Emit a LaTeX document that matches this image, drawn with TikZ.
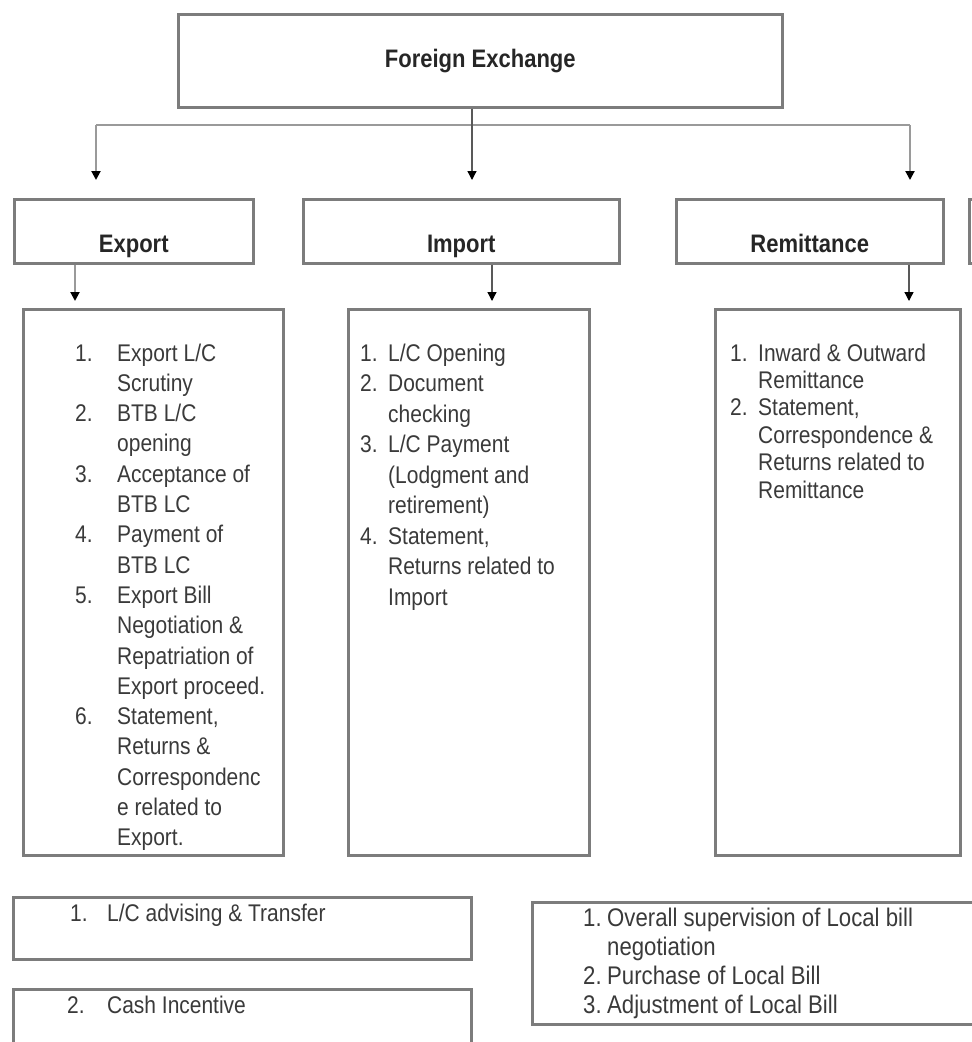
\documentclass[tikz,border=0pt]{standalone}
\usepackage{fontspec}
\setmainfont{Liberation Sans}[FakeStretch=0.87]
\usetikzlibrary{arrows.meta,calc}
\definecolor{bordergray}{HTML}{7C7C7C}
\definecolor{linkgray}{HTML}{9A9A9A}
\definecolor{txtgray}{HTML}{3A3A3A}
\begin{document}
\begin{tikzpicture}[x=1pt,y=-1pt,
  box/.style={draw=bordergray, line width=2.5pt, fill=white, inner sep=0pt, anchor=north west},
  hd/.style={font=\bfseries\fontsize{25.3}{28}\selectfont, text=black!85},
  lowtext/.style={text height=47pt, text depth=5pt},
  lst/.style={font=\fontsize{24.1}{#1}\selectfont, text=txtgray, inner sep=0pt, anchor=base west},
  lst/.default={30.3},
  conn/.style={draw=linkgray, line width=2.5pt},
  arr/.style={draw=black!65, line width=1.3pt, -{Triangle[width=9pt,length=9pt,color=black]}},
]
\useasboundingbox (0,0) rectangle (972,1042);
\clip (0,0) rectangle (972,1042);
\fill[white] (0,0) rectangle (972,1042);

% level 0
\node[box, hd, minimum width=604pt, minimum height=93pt] (fx) at (177,13) {Foreign Exchange};

% level 1
\node[box, hd, lowtext, minimum width=239pt, minimum height=64pt] (exp) at (13,198) {Export};
\node[box, hd, lowtext, minimum width=316pt, minimum height=64pt] (imp) at (302,198) {Import};
\node[box, hd, lowtext, minimum width=267pt, minimum height=64pt] (rem) at (675,198) {Remittance};
\node[box, minimum width=40pt, minimum height=64pt] (other) at (968,198) {};

% list boxes
\node[box, minimum width=260pt, minimum height=546pt] (expbox) at (22,308) {};
\node[box, minimum width=241pt, minimum height=546pt] (impbox) at (347,308) {};
\node[box, minimum width=245pt, minimum height=546pt] (rembox) at (714,308) {};

\node[lst] (expT) at (75,361) {\begin{tabular}[t]{@{}p{42pt}@{}l@{}}
1. & Export L/C\\
   & Scrutiny\\
2. & BTB L/C\\
   & opening\\
3. & Acceptance of\\
   & BTB LC\\
4. & Payment of\\
   & BTB LC\\
5. & Export Bill\\
   & Negotiation \&\\
   & Repatriation of\\
   & Export proceed.\\
6. & Statement,\\
   & Returns \&\\
   & Correspondenc\\
   & e related to\\
   & Export.
\end{tabular}};

\node[lst=30.5] (impT) at (360,361) {\begin{tabular}[t]{@{}p{28pt}@{}l@{}}
1. & L/C Opening\\
2. & Document\\
   & checking\\
3. & L/C Payment\\
   & (Lodgment and\\
   & retirement)\\
4. & Statement,\\
   & Returns related to\\
   & Import
\end{tabular}};

\node[lst=27.4] (remT) at (730,361) {\begin{tabular}[t]{@{}p{28pt}@{}l@{}}
1. & Inward \& Outward\\
   & Remittance\\
2. & Statement,\\
   & Correspondence \&\\
   & Returns related to\\
   & Remittance
\end{tabular}};

% bottom boxes
\node[box, minimum width=458pt, minimum height=62pt] (lcadv) at (12,896) {};
\node[box, minimum width=458pt, minimum height=80pt] (cash) at (12,988) {};
\node[box, minimum width=460pt, minimum height=122pt] (local) at (531,901) {};

\node[lst] (lcadvT) at (70,921) {\begin{tabular}[t]{@{}p{37pt}@{}l@{}}
1. & L/C advising \& Transfer
\end{tabular}};
\node[lst] (cashT) at (67,1013) {\begin{tabular}[t]{@{}p{40pt}@{}l@{}}
2. & Cash Incentive
\end{tabular}};
\node[lst=29, font=\fontsize{25.5}{29}\selectfont] (localT) at (583,926) {\begin{tabular}[t]{@{}p{24pt}@{}l@{}}
1. & Overall supervision of Local bill\\
   & negotiation\\
2. & Purchase of Local Bill\\
3. & Adjustment of Local Bill
\end{tabular}};

% connectors
\coordinate (j) at (472,125);
\coordinate (jl) at (96,125);
\coordinate (jr) at (910,125);
\draw[conn] (jl) -- (jr);
\draw[arr, shorten >=18pt] (fx.south -| j) -- (j |- imp.north);
\draw[arr, draw=linkgray, line width=2pt, shorten >=18pt] (jl) -- (jl |- exp.north);
\draw[arr, draw=linkgray, line width=2pt, shorten >=18pt] (jr) -- (jr |- rem.north);

\coordinate (xe) at (75,0);
\coordinate (xi) at (492,0);
\coordinate (xr) at (909,0);
\draw[arr, draw=linkgray, line width=2pt, shorten >=7pt] (exp.south -| xe) -- (xe |- expbox.north);
\draw[arr, shorten >=7pt] (imp.south -| xi) -- (xi |- impbox.north);
\draw[arr, shorten >=7pt] (rem.south -| xr) -- (xr |- rembox.north);
\end{tikzpicture}
\end{document}
